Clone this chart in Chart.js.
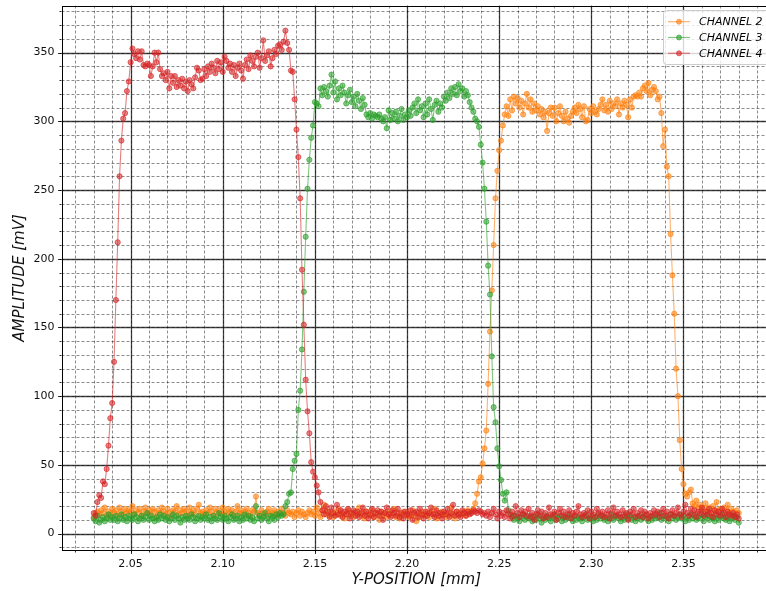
<!DOCTYPE html>
<html>
<head>
<meta charset="utf-8">
<title>Amplitude vs Y-position</title>
<script src="https://cdn.jsdelivr.net/npm/chart.js@4.4.1/dist/chart.umd.min.js"></script>
<style>
  html, body { margin: 0; padding: 0; background: #ffffff; overflow: hidden; }
  #wrap { position: relative; width: 766px; height: 591px; overflow: hidden; }
  canvas { position: absolute; left: 0; top: 0; }
</style>
</head>
<body>
<div id="wrap"><canvas id="scan" width="776" height="591"></canvas></div>
<script>
// Scan positions: one sample every 0.001 mm from 2.030 mm to 2.380 mm
const SCAN_START = 2.030;
const SCAN_STEP = 0.001;
const SCAN_COUNT = 351;
const positions = Array.from({ length: SCAN_COUNT }, (_, i) => +(SCAN_START + i * SCAN_STEP).toFixed(3));

// CHANNEL 2 amplitude [mV]
const channel2 = [
  12,15,16,14,17,15,19,13,16,14,
  18,15,17,13,19,16,14,18,15,17,
  16,20,14,17,15,18,13,16,19,15,
  17,14,18,16,12,17,15,19,16,14,
  18,15,13,17,16,20,14,17,15,18,
  16,13,19,15,17,14,18,21,15,16,
  14,17,15,19,16,13,18,15,17,14,
  19,16,14,18,15,17,13,16,20,15,
  17,14,16,18,15,13,17,16,27,15,
  14,17,15,13,16,18,14,15,17,13,
  16,14,18,15,13,17,15,14,16,12,
  15,17,13,16,14,12,15,17,14,16,
  13,19,15,12,17,21,14,16,13,15,
  12,16,14,18,13,15,11,14,17,13,
  15,12,16,14,19,13,15,11,16,14,
  13,17,12,15,14,10,16,13,15,12,
  14,16,13,18,12,15,11,14,16,13,
  15,12,14,17,13,9,15,12,16,14,
  13,16,12,15,14,18,11,15,13,16,
  14,12,15,13,19,14,11,16,13,15,
  14,16,13,17,15,16,
  18,22,29,38,41,51,62,75,109,147,177,210,244,264,279,286,297,
  305,311,304,316,308,318,313,317,310,315,
  305,313,320,310,316,307,313,308,311,305,
  309,303,307,293,306,310,304,310,300,306,
  311,304,300,307,302,299,304,307,310,306,
  312,309,303,311,300,301,309,306,311,307,
  305,309,312,316,308,312,307,315,309,313,
  311,316,305,313,310,315,312,303,316,310,
  318,319,318,321,318,324,326,322,328,319,
  323,325,322,316,318,
  306,282,294,267,260,218,188,160,120,100,68,47,36,29,27,30,32,22,
  20,24,19,21,17,18,22,16,19,15,20,17,23,16,18,14,19,17,21,15,18,16,13,17,15
];

// CHANNEL 3 amplitude [mV]
const channel3 = [
  11,9,13,8,10,12,9,11,14,10,
  12,10,13,9,11,14,10,12,9,13,
  11,10,14,12,9,11,13,10,12,15,
  10,13,11,9,12,10,14,11,13,10,
  12,9,11,14,10,13,11,8,12,10,
  13,11,10,14,12,9,11,13,10,12,
  11,14,10,12,9,13,11,10,15,12,
  10,13,11,9,12,14,10,11,13,9,
  12,10,14,11,13,10,12,9,20,11,
  13,10,12,15,11,9,13,12,10,14,
  12,15,13,
  14,20,23,29,30,47,53,58,90,104,134,176,216,251,272,288,297,
  314,313,311,324,319,325,322,318,326,334,
  321,329,316,324,319,326,321,313,319,323,
  314,318,311,320,315,309,317,312,305,303,
  306,302,305,304,303,305,302,300,303,295,
  308,301,306,302,307,300,304,309,301,305,
  303,308,304,310,313,306,316,308,311,303,
  313,305,316,309,301,312,315,307,313,310,
  318,315,321,317,324,320,325,319,327,322,
  324,318,322,319,
  314,310,307,302,300,296,283,270,251,227,195,174,129,92,81,62,49,39,29,24,30,17,
  14,12,10,13,11,9,12,14,10,12,
  11,13,9,12,10,14,11,8,12,10,
  13,11,9,12,14,10,11,13,9,12,
  10,12,14,11,9,13,10,12,11,9,
  12,14,10,11,13,9,12,10,14,11,
  13,10,12,9,11,14,10,12,13,11,
  9,12,10,14,11,13,10,12,9,11,
  13,10,12,14,11,9,12,10,13,11,
  12,15,10,13,11,12,9,14,11,13,
  10,12,14,11,13,9,12,10,14,11,
  13,10,12,11,14,9,12,13,10,12,
  11,9,13,10,12,14,11,10,12,9,
  11,13,10,12,8
];

// CHANNEL 4 amplitude [mV]
const channel4 = [
  15,13,23,28,26,38,36,47,64,84,95,125,170,212,260,286,302,306,322,329,
  343,353,349,346,351,345,351,341,340,342,
  341,333,340,350,343,350,338,333,335,330,
  336,324,333,328,333,325,330,326,331,324,
  329,322,330,327,324,332,339,337,330,331,
  338,333,340,336,342,339,335,344,338,343,
  336,347,344,339,342,336,341,333,339,342,
  337,331,341,345,338,348,344,340,347,350,
  339,346,359,344,348,351,340,346,352,349,
  355,356,352,358,366,357,352,337,336,316,
  294,274,244,192,152,112,89,73,52,45,41,35,30,23,17,
  14,20,16,12,19,15,13,21,14,17,
  12,16,14,18,11,15,17,13,16,12,
  15,19,13,16,11,14,18,12,15,17,
  13,16,10,15,19,14,12,17,15,13,
  18,12,15,11,16,14,13,17,10,15,
  16,12,18,14,11,16,13,15,19,14,
  12,17,13,15,11,16,14,18,12,15,
  21,13,16,14,12,17,15,13,16,14,
  15,17,16,15,17,16,14,15,13,16,
  12,15,18,14,11,16,13,15,12,17,
  14,11,16,13,20,15,12,17,14,16,
  13,18,12,15,10,14,17,13,16,11,
  15,12,19,14,13,16,10,15,18,13,
  16,12,14,17,11,15,13,16,20,14,
  12,15,13,17,11,16,14,12,18,15,
  13,16,12,14,17,11,15,19,13,16,
  14,12,17,13,15,10,16,14,18,12,
  15,13,17,12,16,14,11,15,13,17,
  14,16,12,15,18,13,16,11,14,17,
  13,15,19,14,12,16,21,15,13,18,
  14,17,12,16,15,19,13,16,14,18,
  15,12,17,14,16,13,18,15,12,16,
  14,13,15,12,14,11
];

// Axis ticks and labels
const xMajorTicks = [2.05, 2.10, 2.15, 2.20, 2.25, 2.30, 2.35];
const yMajorTicks = [0, 50, 100, 150, 200, 250, 300, 350];
const X_MIN = 2.0125, X_MAX = 2.3975;
const Y_MIN = -12.3, Y_MAX = 384.3;
const X_MINOR_STEP = 0.01, Y_MINOR_STEP = 10;

const seriesNames = ['CHANNEL 2', 'CHANNEL 3', 'CHANNEL 4'];
const seriesRGB = ['255,127,14', '44,160,44', '214,39,40'];
const seriesValues = [channel2, channel3, channel4];

const FONT = "'DejaVu Sans', 'Liberation Sans', sans-serif";

function minorValues(min, max, step) {
  const out = [];
  const start = Math.ceil(min / step - 1e-9);
  const end = Math.floor(max / step + 1e-9);
  for (let k = start; k <= end; k++) out.push(+(k * step).toFixed(4));
  return out;
}

// Grid: dashed minor lines, solid major lines, plus outward tick marks
const gridPlugin = {
  id: 'scanGrid',
  beforeDatasetsDraw(chart) {
    const { ctx, chartArea: a, scales: { x, y } } = chart;
    const xMinor = minorValues(X_MIN, X_MAX, X_MINOR_STEP);
    const yMinor = minorValues(Y_MIN, Y_MAX, Y_MINOR_STEP);
    ctx.save();
    ctx.beginPath();
    ctx.rect(a.left, a.top, a.right - a.left, a.bottom - a.top);
    ctx.clip();
    ctx.lineWidth = 1;
    ctx.strokeStyle = 'rgba(0,0,0,0.45)';
    ctx.setLineDash([3, 2]);
    ctx.beginPath();
    xMinor.forEach(v => {
      const px = Math.round(x.getPixelForValue(v)) + 0.5;
      ctx.moveTo(px, a.top); ctx.lineTo(px, a.bottom);
    });
    yMinor.forEach(v => {
      const py = Math.round(y.getPixelForValue(v)) + 0.5;
      ctx.moveTo(a.left, py); ctx.lineTo(a.right, py);
    });
    ctx.stroke();
    ctx.setLineDash([]);
    ctx.strokeStyle = 'rgba(0,0,0,0.72)';
    ctx.lineWidth = 1.3;
    ctx.beginPath();
    xMajorTicks.forEach(v => {
      const px = Math.round(x.getPixelForValue(v)) + 0.5;
      ctx.moveTo(px, a.top); ctx.lineTo(px, a.bottom);
    });
    yMajorTicks.forEach(v => {
      const py = Math.round(y.getPixelForValue(v)) + 0.5;
      ctx.moveTo(a.left, py); ctx.lineTo(a.right, py);
    });
    ctx.stroke();
    ctx.restore();

    // tick marks outside the frame
    ctx.save();
    ctx.strokeStyle = '#000';
    ctx.lineWidth = 0.8;
    ctx.beginPath();
    xMinor.forEach(v => {
      const px = Math.round(x.getPixelForValue(v)) + 0.5;
      ctx.moveTo(px, a.bottom); ctx.lineTo(px, a.bottom + 2);
    });
    yMinor.forEach(v => {
      const py = Math.round(y.getPixelForValue(v)) + 0.5;
      ctx.moveTo(a.left, py); ctx.lineTo(a.left - 2, py);
    });
    ctx.stroke();
    ctx.beginPath();
    xMajorTicks.forEach(v => {
      const px = Math.round(x.getPixelForValue(v)) + 0.5;
      ctx.moveTo(px, a.bottom); ctx.lineTo(px, a.bottom + 3.5);
    });
    yMajorTicks.forEach(v => {
      const py = Math.round(y.getPixelForValue(v)) + 0.5;
      ctx.moveTo(a.left, py); ctx.lineTo(a.left - 3.5, py);
    });
    ctx.stroke();
    ctx.restore();
  },
  afterDatasetsDraw(chart) {
    const { ctx, chartArea: a } = chart;
    ctx.save();
    ctx.strokeStyle = '#000';
    ctx.lineWidth = 1;
    ctx.strokeRect(Math.round(a.left) + 0.5, Math.round(a.top) + 0.5,
                   Math.round(a.right - a.left), Math.round(a.bottom - a.top) - 1);
    ctx.restore();
  }
};

// Legend box in the upper right corner
const legendPlugin = {
  id: 'scanLegend',
  afterDraw(chart) {
    const { ctx } = chart;
    ctx.save();
    const bx = 663.5, by = 10.5, bw = 112, bh = 54;
    ctx.beginPath();
    ctx.roundRect(bx, by, bw, bh, 3);
    ctx.fillStyle = 'rgba(255,255,255,0.8)';
    ctx.fill();
    ctx.strokeStyle = '#cccccc';
    ctx.lineWidth = 1;
    ctx.stroke();
    ctx.font = 'italic 11px ' + FONT;
    ctx.textBaseline = 'middle';
    ctx.textAlign = 'left';
    seriesNames.forEach((name, i) => {
      const yy = 21.7 + i * 15.8;
      const rgb = seriesRGB[i];
      ctx.strokeStyle = `rgba(${rgb},0.6)`;
      ctx.lineWidth = 1.2;
      ctx.beginPath();
      ctx.moveTo(668, yy); ctx.lineTo(690, yy);
      ctx.stroke();
      ctx.beginPath();
      ctx.arc(679, yy, 2.5, 0, Math.PI * 2);
      ctx.fillStyle = `rgba(${rgb},0.6)`;
      ctx.fill();
      ctx.strokeStyle = `rgba(${rgb},0.65)`;
      ctx.lineWidth = 1;
      ctx.stroke();
      ctx.fillStyle = '#000';
      ctx.fillText(name, 699, yy + 0.5);
    });
    ctx.restore();
  }
};

const datasets = seriesNames.map((name, i) => {
  const rgb = seriesRGB[i];
  return {
    label: name,
    data: positions.map((p, k) => ({ x: p, y: seriesValues[i][k] })),
    borderColor: `rgba(${rgb},0.6)`,
    borderWidth: 1.1,
    backgroundColor: `rgba(${rgb},0.55)`,
    pointRadius: 2.6,
    pointBorderWidth: 1,
    pointBackgroundColor: `rgba(${rgb},0.55)`,
    pointBorderColor: `rgba(${rgb},0.65)`,
    tension: 0,
    fill: false,
    order: seriesNames.length - i
  };
});

new Chart(document.getElementById('scan').getContext('2d'), {
  type: 'line',
  data: { datasets },
  options: {
    responsive: false,
    animation: false,
    devicePixelRatio: 1,
    layout: { padding: { top: 5.5, right: 2.6, left: 0, bottom: 0 } },
    scales: {
      x: {
        type: 'linear',
        min: X_MIN,
        max: X_MAX,
        grid: { display: false, drawTicks: false },
        border: { display: false },
        afterBuildTicks: s => { s.ticks = xMajorTicks.map(v => ({ value: v })); },
        afterFit: s => { s.height = 40.5; s.paddingLeft = 0; s.paddingRight = 0; },
        ticks: {
          autoSkip: false,
          maxRotation: 0,
          padding: 7,
          color: '#111',
          font: { family: FONT, size: 11 },
          callback: v => Number(v).toFixed(2)
        },
        title: {
          display: true,
          text: 'Y-POSITION [mm]',
          color: '#111',
          font: { family: FONT, size: 15, style: 'italic' },
          padding: { top: 0, bottom: 2 }
        }
      },
      y: {
        type: 'linear',
        min: Y_MIN,
        max: Y_MAX,
        grid: { display: false, drawTicks: false },
        border: { display: false },
        afterBuildTicks: s => { s.ticks = yMajorTicks.map(v => ({ value: v })); },
        afterFit: s => { s.width = 61.5; s.paddingTop = 0; s.paddingBottom = 0; },
        ticks: {
          autoSkip: false,
          padding: 7,
          color: '#111',
          font: { family: FONT, size: 11 },
          callback: v => String(v)
        },
        title: {
          display: true,
          text: 'AMPLITUDE [mV]',
          color: '#111',
          font: { family: FONT, size: 15, style: 'italic' },
          padding: { top: 11, bottom: 0 }
        }
      }
    },
    plugins: {
      legend: { display: false },
      tooltip: { enabled: false }
    }
  },
  plugins: [gridPlugin, legendPlugin]
});
</script>
</body>
</html>
